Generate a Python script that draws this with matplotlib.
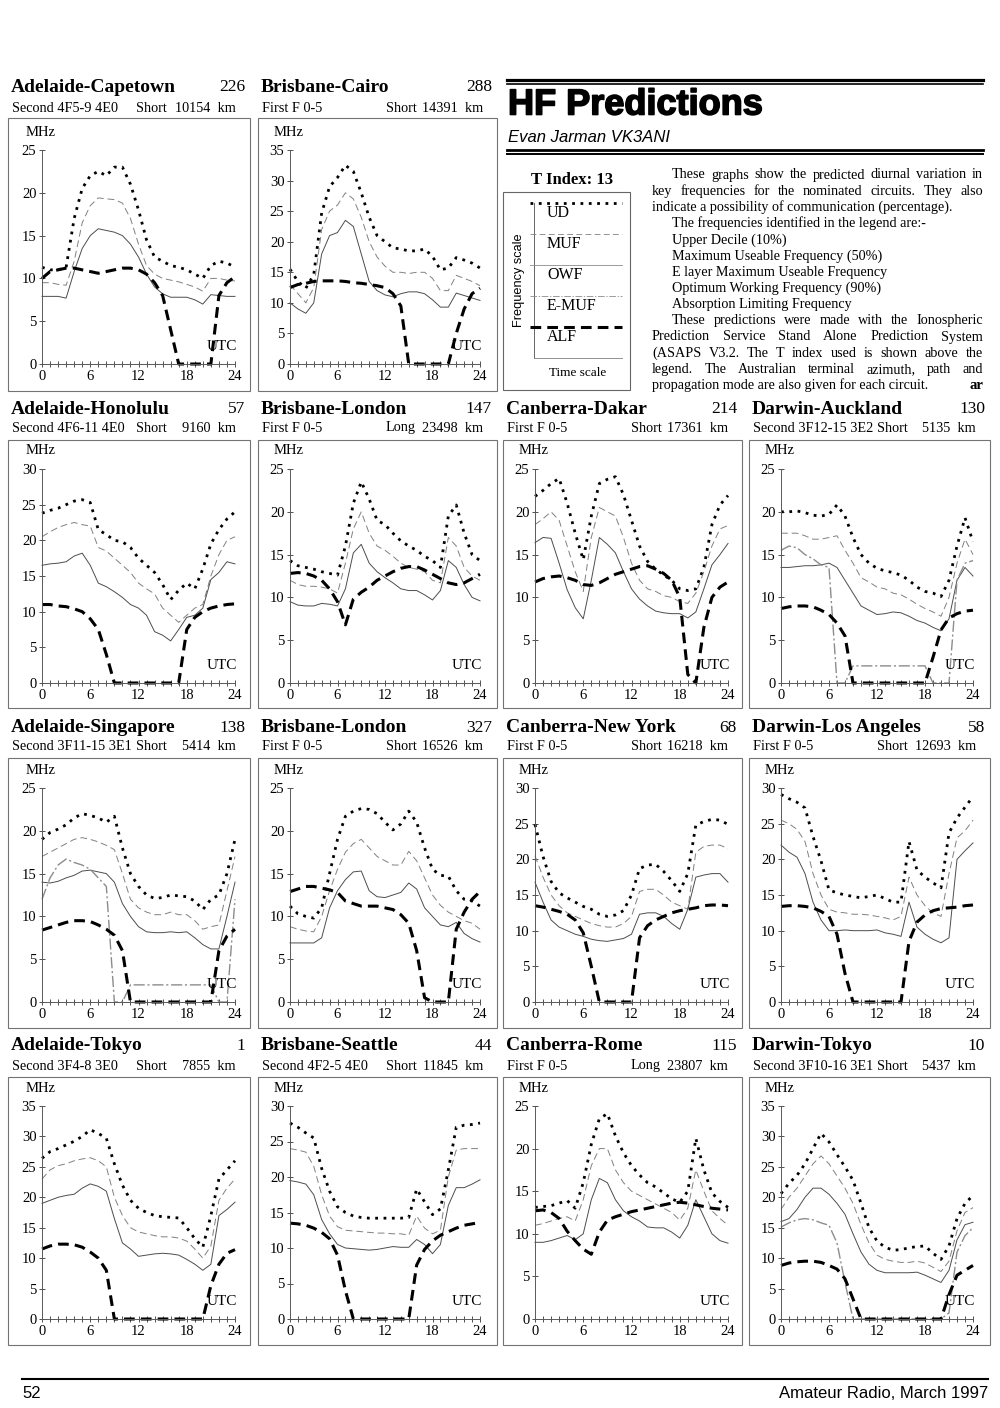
import matplotlib
matplotlib.use('Agg')
import matplotlib.pyplot as plt
import matplotlib.patheffects as pe
from matplotlib.patches import Rectangle
from matplotlib.lines import Line2D

W, H = 1000, 1408
SERIF = ['Liberation Serif', 'DejaVu Serif']
SANS = ['Liberation Sans', 'DejaVu Sans']
plt.rcParams['font.family'] = SERIF

hours = list(range(25))

# ---- circuit data, one value per UTC hour (0..24), MHz ----
ade_cap_ud = [11.3, 11, 11, 11.3, 17, 20.5, 22, 22.5, 22, 23, 23, 21, 18, 14.5, 12.5, 12, 11.5, 11.3, 11, 10.5, 10, 11.5, 12, 11.8, 11.3]
ade_cap_muf = [9.5, 9.5, 9.3, 9.2, 12, 16.5, 18.5, 19.4, 19.3, 19.2, 18.8, 17, 14, 11.5, 10.5, 10, 9.8, 9.6, 9.3, 9.0, 8.5, 10, 10, 9.8, 9.7]
ade_cap_owf = [7.9, 7.9, 7.9, 7.7, 10.8, 13.5, 15, 15.8, 15.6, 15.4, 15, 14, 12.5, 10.5, 9, 8.2, 7.8, 7.8, 7.8, 7.5, 7.0, 8.1, 8, 7.9, 7.9]
ade_cap_alf = [10, 10.8, 11, 11.2, 11.2, 11, 10.8, 10.6, 10.8, 11, 11.2, 11.2, 11, 10.5, 9.5, 8, 4, 0, 0, 0, 0, 0, 8, 9.5, 10.2]

bri_cai_ud = [15.5, 13.5, 12.4, 14.6, 24.7, 29, 30.5, 32.5, 31.5, 28, 24, 21, 20, 19, 18.8, 18.5, 18.5, 18.8, 17.6, 15.4, 15.7, 17.4, 17, 16.5, 15.7]
bri_cai_muf = [13, 11.5, 10, 12.5, 22, 25, 26, 28, 27, 24, 20, 17.5, 16, 15, 15, 14.8, 15, 15, 14, 12, 12, 14.5, 14, 13.5, 12.8]
bri_cai_owf = [10, 9, 8.3, 10, 18, 21, 21.5, 23.5, 22.5, 18, 13.5, 12, 11.3, 11, 11.5, 11.8, 11.8, 11.5, 10.5, 9.3, 9.3, 11.6, 11.2, 10.8, 10.4]
bri_cai_alf = [12.5, 13, 13.2, 13.5, 13.6, 13.6, 13.6, 13.5, 13.3, 13.2, 13, 12.8, 12.5, 11.5, 9.5, 0, 0, 0, 0, 0, 0, 5, 9, 11.5, 12.4]

ade_hon_ud = [23.8, 24.2, 24.5, 25, 25.5, 25.7, 25.3, 21.5, 20.8, 20, 19.8, 19, 17.5, 16.5, 15.5, 13.8, 11.7, 13, 14, 13.2, 16, 19.5, 21.5, 23, 24]
ade_hon_muf = [20.5, 21.2, 21.8, 22.2, 22.5, 22.2, 22, 19, 18.5, 17.5, 16.5, 15.5, 14, 13.2, 12.5, 10.5, 9.5, 8.5, 9.5, 10.5, 11, 15, 18, 20, 20.5]
ade_hon_owf = [16.5, 16.7, 16.8, 17, 17.8, 18.2, 16.5, 14, 13.5, 12.8, 12, 11, 10.5, 9.5, 7.2, 6.7, 5.9, 7.5, 9.2, 9.5, 10.5, 14.5, 15.5, 17, 16.7]
ade_hon_alf = [11, 11, 10.8, 10.7, 10.4, 10, 9, 7.5, 4, 0, 0, 0, 0, 0, 0, 0, 0, 0, 7.5, 9.2, 10, 10.5, 10.8, 11, 11.1]

bri_lon1_ud = [14.3, 13.7, 13.5, 13.3, 13, 12.8, 12.6, 16, 21, 23.5, 21.5, 19, 18.5, 17.5, 16.6, 16, 15.5, 14.8, 14.3, 13.5, 19.5, 20.8, 17.5, 15, 14.3]
bri_lon1_muf = [12, 11.5, 11.3, 11.3, 11.2, 11, 10.5, 14, 18, 20, 17.5, 16, 15.5, 14.8, 14, 13.5, 13.3, 13, 12, 11.7, 17, 16, 13.5, 12.5, 12]
bri_lon1_owf = [9.5, 9.1, 9, 9, 9.3, 9.2, 9, 11, 15.2, 16.2, 14, 13, 12.3, 11.7, 11, 10.8, 10.8, 10.3, 9.7, 10.8, 14.3, 13.5, 11.5, 10, 9.6]
bri_lon1_alf = [12.8, 12.9, 12.8, 12.5, 12, 11, 9.5, 6.8, 9.8, 10.6, 11.2, 12, 12.5, 13, 13.4, 13.6, 13.6, 13.2, 12.7, 12.2, 11.7, 11.5, 11.7, 12.2, 12.7]

can_dak_ud = [21.8, 22.5, 23.3, 23.9, 21, 17.5, 14.4, 19.5, 23.3, 23.8, 24.1, 22, 19, 16, 14.2, 13.3, 12.6, 12, 11, 10.8, 11, 13.5, 18.5, 20.8, 21.9]
can_dak_muf = [18.5, 19.2, 20, 19, 16, 13, 10.7, 17, 20.5, 20, 19.5, 17, 14, 12, 11, 10.7, 10.2, 10, 9.5, 9.3, 10.5, 13, 16, 18, 18.4]
can_dak_owf = [16.4, 17, 16.9, 14, 10.9, 8.8, 7.5, 12, 17, 16.2, 15.2, 13, 11, 9.8, 9, 8.4, 8.2, 8.1, 8.1, 7.6, 8.3, 11, 13.8, 15, 16.3]
can_dak_alf = [11.8, 12.2, 12.4, 12.5, 12.3, 12, 11.5, 11.4, 11.7, 12.2, 12.7, 13, 13.3, 13.6, 13.7, 13.3, 12.8, 12, 10, 1, 0, 6.5, 10, 11.2, 11.8]

dar_auc_ud = [20, 20, 20.1, 19.9, 19.6, 19.5, 19.7, 20.8, 19.5, 17, 15, 14, 13.4, 13.1, 12.9, 12.6, 12, 11.2, 10.7, 10.5, 10.1, 12, 16, 19.3, 16.5]
dar_auc_muf = [17.5, 17.5, 17.5, 17.2, 16.8, 16.8, 17, 17.2, 15.5, 14, 12.3, 11.8, 11.2, 11, 10.5, 10.3, 9.8, 9.2, 8.7, 8.3, 7.8, 10, 14, 16.8, 15]
dar_auc_owf = [13.5, 13.5, 13.6, 13.7, 13.7, 13.8, 14, 13.5, 12, 10.5, 9, 8.5, 8, 8.1, 8.3, 8.2, 7.8, 7.3, 7, 6.5, 6.1, 7.5, 12, 13.5, 12.5]
dar_auc_emuf = [15.5, 16, 15.8, 15, 14.5, 13.8, 13.5, 0, 0, 2, 2, 2, 2, 2, 2, 2, 2, 2, 2, 0, 0, 0, 12, 14, 14.3]
dar_auc_alf = [8.7, 8.9, 9, 9, 8.9, 8.5, 8, 7, 5.5, 0, 0, 0, 0, 0, 0, 0, 0, 0, 0, 3, 6.2, 7.6, 8.1, 8.4, 8.5]

ade_sin_ud = [19, 19.8, 20.2, 20.7, 21.5, 22, 21.8, 21.5, 21, 21.7, 18, 15, 13.5, 12.5, 12.1, 12.2, 12.5, 12.4, 12.3, 11.8, 10.8, 12, 12.5, 15, 19]
ade_sin_muf = [17, 17.5, 18, 18.5, 19, 19.2, 19, 18.7, 18.3, 17.8, 15, 12, 11, 10.5, 10.2, 10.2, 10.5, 10.2, 10.2, 9.5, 8.5, 8.8, 9, 13, 17]
ade_sin_owf = [14, 13.9, 14.1, 14.5, 14.8, 15.3, 15.4, 15.2, 15, 14, 11.5, 10, 8.8, 8.2, 8.1, 8.1, 8.2, 8.1, 8.2, 7.5, 6.7, 6.2, 6.2, 10, 14]
ade_sin_emuf = [12, 14.5, 16, 16.7, 16.3, 16, 15.5, 14.5, 13.5, 0, 0, 2, 2, 2, 2, 2, 2, 2, 2, 2, 2, 2, 0, 0, 12]
ade_sin_alf = [8.4, 8.7, 9, 9.3, 9.5, 9.5, 9.4, 9, 8.5, 7.8, 6, 0, 0, 0, 0, 0, 0, 0, 0, 0, 0, 0, 6, 7.7, 8.5]

bri_lon2_ud = [11.2, 10.3, 10, 9.8, 11, 15, 19, 21.7, 22.3, 22.6, 22.5, 22, 21, 20.1, 20.8, 22.3, 21, 18, 15.5, 14.8, 14.7, 13, 12, 11.8, 11.2]
bri_lon2_muf = [8.8, 8.5, 8.3, 8.2, 10, 13, 15.5, 17.5, 18.5, 19, 18, 17, 16.5, 16, 16, 17.6, 16.5, 14.5, 12.5, 11.3, 10.5, 10, 9.5, 9.2, 8.5]
bri_lon2_owf = [6.9, 6.9, 6.9, 6.9, 7.5, 11, 13, 14.3, 15.2, 15.3, 13, 12.3, 12.2, 12.5, 12.8, 13.9, 13.2, 11, 10, 9, 8.8, 9.3, 8, 7.4, 7]
bri_lon2_alf = [12.9, 13.2, 13.5, 13.5, 13.3, 13.1, 12.8, 11.8, 11.5, 11.2, 11.2, 11.2, 11, 10.8, 10.2, 9.2, 6, 0.5, 0, 0, 0, 8.5, 10.5, 12, 12.9]

can_ny_ud = [24.9, 20.4, 16.9, 15.3, 14.6, 14, 13.4, 13, 12.3, 12, 12.2, 12.8, 15, 18.7, 19.2, 19.3, 18.3, 17, 15.5, 18, 24.8, 25.3, 25.6, 25.5, 24.9]
can_ny_muf = [20.5, 17.5, 15, 13.5, 12.5, 12, 11.5, 11, 10.7, 10.5, 10.5, 11, 12, 15.5, 15.8, 15.8, 15, 14, 13.5, 13, 21, 21.8, 22, 22, 21.5]
can_ny_owf = [16.8, 14, 11.5, 10.5, 10, 9.5, 9.2, 8.8, 8.6, 8.5, 8.7, 8.9, 9.5, 12.3, 12.5, 12.5, 12, 11, 10.2, 13, 17.5, 17.8, 18, 18, 16.8]
can_ny_alf = [13.5, 13.3, 13, 12.7, 12.3, 11.5, 9.7, 5, 0, 0, 0, 0, 0, 9, 10.7, 11.5, 12, 12.5, 12.8, 13, 13.2, 13.5, 13.6, 13.6, 13.5]

dar_la_ud = [29.1, 28.5, 28, 27.2, 23.2, 19.8, 15.7, 15.3, 15, 14.8, 14.6, 14.8, 15, 14.5, 14, 14, 22.5, 18.5, 17.5, 16.7, 16, 23.7, 25.8, 27.3, 28.8]
dar_la_muf = [25.5, 25, 24.2, 22.5, 18, 15, 13, 12.6, 12.5, 12.3, 12.3, 12.2, 12, 11.8, 11.5, 12, 17.5, 15, 13.5, 12.5, 12, 18, 23, 24, 25.5]
dar_la_owf = [22, 21, 20.3, 18, 14, 11.5, 10, 10, 10.1, 10, 10, 10, 10.1, 9.7, 9.5, 9.2, 14, 10.5, 9.5, 8.8, 8.3, 9, 20, 21.2, 22.3]
dar_la_alf = [13.4, 13.5, 13.5, 13.4, 13.2, 12.7, 12, 9.5, 4, 0, 0, 0, 0, 0, 0, 0, 8.5, 11.2, 12.2, 12.8, 13.1, 13.2, 13.3, 13.5, 13.6]

ade_tok_ud = [26.4, 27.5, 28, 28.6, 29.2, 30, 31.1, 30.5, 29.7, 25.5, 22, 19.5, 18.2, 17.5, 17, 16.8, 16.7, 16.6, 15, 13.2, 11.8, 17, 23, 24.5, 26]
ade_tok_muf = [23, 24.5, 25.2, 25.5, 26, 26.3, 26.5, 26, 25, 20, 17, 15, 14.3, 14, 13.7, 13.5, 13.5, 13.3, 12.8, 11.5, 10, 12, 19.5, 21.5, 23]
ade_tok_owf = [19, 19.5, 20, 20.3, 20.5, 21.5, 22.2, 21.8, 21, 16.5, 12.5, 11.5, 10.3, 10.5, 10.7, 10.8, 10.7, 10.5, 9.8, 9, 8, 9, 17, 18, 19.2]
ade_tok_alf = [11.5, 12, 12.3, 12.3, 12.2, 11.8, 11, 10, 8, 0, 0, 0, 0, 0, 0, 0, 0, 0, 0, 0, 0, 5.5, 9, 10.8, 11.4]

bri_sea_ud = [27.6, 27, 26.2, 25.5, 21.2, 18, 15.8, 15, 14.5, 14.3, 14.2, 14.2, 14.2, 14.2, 14.2, 14.3, 18.3, 16.5, 14.7, 15.5, 21, 27, 27.3, 27.4, 27.6]
bri_sea_muf = [24, 23.8, 23.5, 21.5, 17.5, 14.5, 13, 12.5, 12.4, 12.3, 12.2, 12.1, 12.1, 12, 12, 11.8, 14.5, 12.8, 12, 12.5, 20, 23.8, 24, 24, 24]
bri_sea_owf = [19.5, 19.3, 19, 17.5, 14, 12, 10.5, 10, 9.9, 9.8, 9.7, 9.8, 10, 10.2, 10.1, 10.1, 11.2, 10.5, 9.2, 10.5, 16, 18.5, 18.5, 19, 19.6]
bri_sea_alf = [13.5, 13.4, 13.2, 12.8, 12.2, 11.3, 9, 4, 0, 0, 0, 0, 0, 0, 0, 0, 7.6, 9.8, 11, 11.8, 12.3, 12.8, 13.2, 13.4, 13.6]

can_rom_ud = [13.1, 13.2, 13.3, 13.6, 13.9, 13, 16, 20.5, 23.5, 24.1, 21.5, 19.5, 18, 16.9, 16, 15.5, 14.8, 14.1, 13.7, 15, 21.2, 17.5, 14.8, 13.8, 13.1]
can_rom_muf = [11, 11.2, 11.5, 11.8, 12, 11.5, 14, 18, 20, 20, 17.5, 16, 15, 14.5, 14, 13.5, 13, 12.5, 11.6, 13, 17.5, 15, 12.7, 11.8, 11]
can_rom_owf = [9, 9, 9.2, 9.5, 9.8, 9.3, 10, 14, 16.5, 16, 14, 12.7, 12, 11.5, 10.8, 10.7, 10.7, 10.2, 9.5, 11, 14, 12, 10, 9.2, 8.9]
can_rom_alf = [12.7, 12.8, 12.5, 11.8, 10.3, 9.2, 8.2, 7.6, 10.2, 11.6, 12, 12.3, 12.6, 12.8, 13, 13.2, 13.4, 13.6, 13.7, 13.6, 13.4, 13.2, 13, 12.9, 12.8]

dar_tok_ud = [20.6, 22.3, 23.6, 25.5, 28, 30.5, 29.1, 27, 25, 22.8, 19, 15, 12.8, 11.8, 11.3, 11.4, 11.7, 11.9, 12, 10.8, 9.8, 12, 16.5, 19, 20.3]
dar_tok_muf = [18, 20, 21.5, 23.5, 25.5, 26.8, 25.5, 23.5, 21.5, 19, 15.5, 12.5, 10.5, 9.8, 9.5, 9.3, 9.3, 9.5, 9.2, 8.5, 7.8, 9.5, 14.5, 17.5, 18.3]
dar_tok_owf = [16, 16.5, 18, 20, 21.5, 21.5, 20.5, 19, 17.2, 14, 11, 9, 8, 7.6, 7.6, 7.6, 7.6, 7.7, 7.2, 6.6, 6, 8, 13, 15.5, 15.9]
dar_tok_emuf = [15.1, 15.8, 16.3, 16.5, 16.3, 15.8, 15.4, 12.5, 6, 0, 0, 0, 0, 0, 0, 0, 0, 0, 0, 0, 0, 1, 11, 13.7, 15]
dar_tok_alf = [8.8, 9.2, 9.4, 9.5, 9.5, 9.3, 8.8, 8.2, 6.6, 3.3, 0, 0, 0, 0, 0, 0, 0, 0, 0, 0, 0, 4, 7.2, 8, 8.8]

# title, number, mode, path, distance, y max
circuits = [
    ("Adelaide-Capetown", "226", "Second 4F5-9 4E0", "Short", "10154", 25),
    ("Brisbane-Cairo", "288", "First F 0-5", "Short", "14391", 35),
    ("Adelaide-Honolulu", "57", "Second 4F6-11 4E0", "Short", "9160", 30),
    ("Brisbane-London", "147", "First F 0-5", "Long", "23498", 25),
    ("Canberra-Dakar", "214", "First F 0-5", "Short", "17361", 25),
    ("Darwin-Auckland", "130", "Second 3F12-15 3E2", "Short", "5135", 25),
    ("Adelaide-Singapore", "138", "Second 3F11-15 3E1", "Short", "5414", 25),
    ("Brisbane-London", "327", "First F 0-5", "Short", "16526", 25),
    ("Canberra-New York", "68", "First F 0-5", "Short", "16218", 30),
    ("Darwin-Los Angeles", "58", "First F 0-5", "Short", "12693", 30),
    ("Adelaide-Tokyo", "1", "Second 3F4-8 3E0", "Short", "7855", 35),
    ("Brisbane-Seattle", "44", "Second 4F2-5 4E0", "Short", "11845", 30),
    ("Canberra-Rome", "115", "First F 0-5", "Long", "23807", 25),
    ("Darwin-Tokyo", "10", "Second 3F10-16 3E1", "Short", "5437", 35),
]
series = [
    (ade_cap_ud, ade_cap_muf, ade_cap_owf, None, ade_cap_alf),
    (bri_cai_ud, bri_cai_muf, bri_cai_owf, None, bri_cai_alf),
    (ade_hon_ud, ade_hon_muf, ade_hon_owf, None, ade_hon_alf),
    (bri_lon1_ud, bri_lon1_muf, bri_lon1_owf, None, bri_lon1_alf),
    (can_dak_ud, can_dak_muf, can_dak_owf, None, can_dak_alf),
    (dar_auc_ud, dar_auc_muf, dar_auc_owf, dar_auc_emuf, dar_auc_alf),
    (ade_sin_ud, ade_sin_muf, ade_sin_owf, ade_sin_emuf, ade_sin_alf),
    (bri_lon2_ud, bri_lon2_muf, bri_lon2_owf, None, bri_lon2_alf),
    (can_ny_ud, can_ny_muf, can_ny_owf, None, can_ny_alf),
    (dar_la_ud, dar_la_muf, dar_la_owf, None, dar_la_alf),
    (ade_tok_ud, ade_tok_muf, ade_tok_owf, None, ade_tok_alf),
    (bri_sea_ud, bri_sea_muf, bri_sea_owf, None, bri_sea_alf),
    (can_rom_ud, can_rom_muf, can_rom_owf, None, can_rom_alf),
    (dar_tok_ud, dar_tok_muf, dar_tok_owf, dar_tok_emuf, dar_tok_alf),
]
# grid slot (row, col) of each circuit
slots = [(0, 0), (0, 1), (1, 0), (1, 1), (1, 2), (1, 3), (2, 0), (2, 1), (2, 2), (2, 3),
         (3, 0), (3, 1), (3, 2), (3, 3)]

# line styles: UD, MUF, OWF, E-MUF, ALF
styles = [
    dict(color='black', lw=2.0, ls=(0, (1, 2))),
    dict(color='0.5', lw=0.7, ls=(0, (7, 4))),
    dict(color='0.3', lw=0.7, ls='-'),
    dict(color='0.55', lw=1.0, ls=(0, (8, 2, 1.5, 2))),
    dict(color='black', lw=2.2, ls=(0, (3.5, 2))),
]

# page layout in pixels
rows = [  # title y, subtitle y, box top, box bottom, axes top, axes bottom
    (87, 108, 118, 391, 150, 364),
    (409, 428, 440, 708, 469, 683),
    (728, 747, 758, 1028, 788, 1002),
    (1046, 1066, 1077, 1345, 1106, 1319),
]
cols = [  # box left, box right, axes left, axes right
    (8, 250, 42, 235),
    (258, 497, 290, 480),
    (503, 742, 535, 728),
    (749, 990, 781, 973),
]


def fx(x):
    return x / W


def fy(y):
    return 1 - y / H


fig = plt.figure(figsize=(10, 14.08), dpi=100)


def box(x0, y0, x1, y1, color='0.45', lw=0.8):
    fig.add_artist(Rectangle((fx(x0), fy(y1)), (x1 - x0) / W, (y1 - y0) / H,
                             transform=fig.transFigure, fill=False, ec=color, lw=lw))


def hline(x0, x1, y, **kw):
    fig.add_artist(Line2D([fx(x0), fx(x1)], [fy(y), fy(y)], transform=fig.transFigure, **kw))


for (title, num, mode, path, dist, ymax), data, (r, c) in zip(circuits, series, slots):
    ty, sy, bt, bb, at, ab = rows[r]
    bl, br, al, ar = cols[c]
    fig.text(fx(bl + 3), fy(ty), title, fontsize=14, fontweight='bold', va='center')
    fig.text(fx(br - 5), fy(ty), num, fontsize=12.5, ha='right', va='center')
    fig.text(fx(bl + 4), fy(sy), mode, fontsize=10.3, va='center')
    fig.text(fx(bl + 128), fy(sy), path, fontsize=10.3, va='center')
    fig.text(fx(br - 14), fy(sy), dist + "  km", fontsize=10.3, ha='right', va='center')
    box(bl, bt, br, bb)

    ax = fig.add_axes([fx(al), fy(ab), (ar - al) / W, (ab - at) / H])
    ax.patch.set_alpha(0)
    for vals, st in zip(data, styles):
        if vals is None:
            continue
        ax.plot(hours, vals, color=st['color'], lw=st['lw'], linestyle=st['ls'], clip_on=False)
    ax.set_xlim(0, 24)
    ax.set_ylim(0, ymax)
    ax.set_xticks(hours)
    ax.set_xticklabels([str(h) if h % 6 == 0 else '' for h in hours])
    ax.set_yticks(range(0, ymax + 1, 5))
    ax.tick_params(axis='both', direction='inout', length=4, width=0.6, color='0.2',
                   labelsize=10.5, pad=2)
    for s in ['top', 'right']:
        ax.spines[s].set_visible(False)
    for s in ['left', 'bottom']:
        ax.spines[s].set_color('0.35')
        ax.spines[s].set_linewidth(0.7)
    fig.text(fx(al - 16), fy(at - 18), 'MHz', fontsize=10.5, va='center')
    ax.text(1.01, 0.08, 'UTC', transform=ax.transAxes, ha='right', va='center', fontsize=11)

# ---- header ----
hline(507, 983, 79.5, color='black', lw=2.3)
hline(507, 983, 83.5, color='black', lw=1.2)
fig.text(fx(508), fy(105), 'HF Predictions', family=SANS, fontsize=26, fontweight='bold', va='center',
         path_effects=[pe.withStroke(linewidth=1.2, foreground='black')])
fig.text(fx(508), fy(137), 'Evan Jarman VK3ANI', family=SANS, fontsize=12, style='italic', va='center')
hline(507, 983, 149.5, color='black', lw=2.0)
hline(507, 983, 153.5, color='black', lw=1.4)

# ---- legend ----
fig.text(fx(572), fy(180), 'T Index: 13', fontsize=12, fontweight='bold', ha='center', va='center')
box(503, 192, 630, 390, color='0.4')
fig.add_artist(Line2D([fx(534), fx(534)], [fy(203), fy(358)], transform=fig.transFigure, color='0.4', lw=0.7))
leg_names = ['UD', 'MUF', 'OWF', 'E-MUF', 'ALF']
leg_y = [203, 234, 265, 296, 327]
for name, y, st in zip(leg_names, leg_y, styles):
    col = st['color']
    if name == 'OWF':
        col = '0.55'
    hline(530, 622, y, color=col, lw=st['lw'] if st['lw'] > 1 else 0.6, linestyle=st['ls'])
    fig.text(fx(547), fy(y + 10), name, fontsize=11.5, va='center')
hline(534, 622, 358, color='0.5', lw=0.6)
fig.text(fx(519), fy(280), 'Frequency scale', family=SANS, fontsize=9.2, rotation=90, ha='center', va='center')
fig.text(fx(578), fy(373), 'Time scale', fontsize=9.5, ha='center', va='center')

# ---- explanatory text ----
body = [
    (672, True, "These graphs show the predicted diurnal variation in"),
    (652, True, "key frequencies for the nominated circuits. They also"),
    (652, False, "indicate a possibility of communication (percentage)."),
    (672, False, "The frequencies identified in the legend are:-"),
    (672, False, "Upper Decile (10%)"),
    (672, False, "Maximum Useable Frequency (50%)"),
    (672, False, "E layer Maximum Useable Frequency"),
    (672, False, "Optimum Working Frequency (90%)"),
    (672, False, "Absorption Limiting Frequency"),
    (672, True, "These predictions were made with the Ionospheric"),
    (652, True, "Prediction Service Stand Alone Prediction System"),
    (652, True, "(ASAPS V3.2. The T index used is shown above the"),
    (652, True, "legend. The Australian terminal azimuth, path and"),
    (652, False, "propagation mode are also given for each circuit."),
]
renderer = fig.canvas.get_renderer()
y = 175
for x0, just, line in body:
    if not just:
        fig.text(fx(x0), fy(y), line, fontsize=10.2, va='center')
    else:
        words = line.split()
        texts = [fig.text(0, fy(y), w, fontsize=10.2, va='center') for w in words]
        widths = [t.get_window_extent(renderer).width for t in texts]
        gap = (983 - x0 - sum(widths)) / (len(words) - 1)
        x = x0
        for t, w in zip(texts, widths):
            t.set_x(fx(x))
            x += w + gap
    y += 16.2
fig.text(fx(983), fy(y - 16.2), 'ar', fontsize=10.5, fontweight='bold', ha='right', va='center')

# ---- footer ----
hline(22, 988, 1379, color='black', lw=1.5)
fig.text(fx(22), fy(1394), '52', family=SANS, fontsize=12, va='center')
fig.text(fx(988), fy(1394), 'Amateur Radio, March 1997', family=SANS, fontsize=12, ha='right', va='center')

fig.savefig('out.png', dpi=100, facecolor='white')
